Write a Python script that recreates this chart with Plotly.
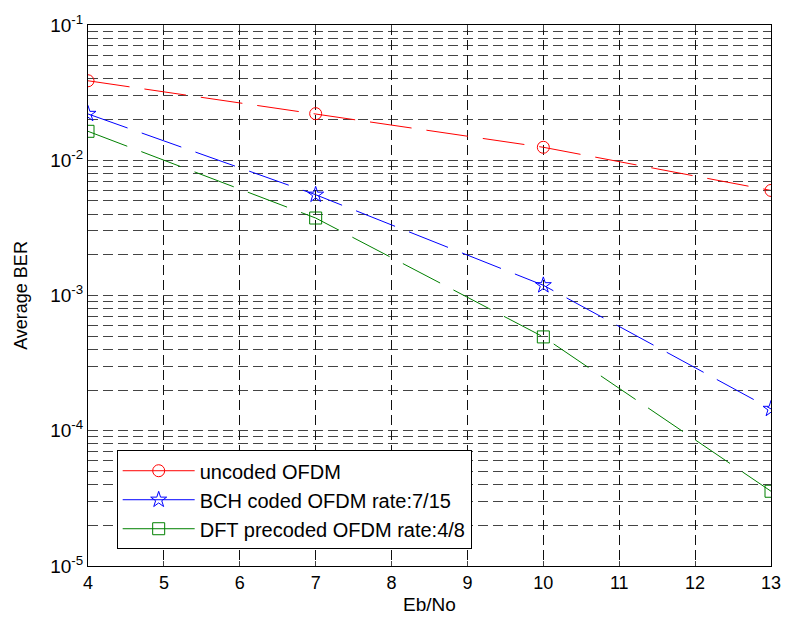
import plotly.graph_objects as go

ebno = [4, 7, 10, 13]
ber_uncoded = [0.0387, 0.0221, 0.01247, 0.00598]
ber_bch = [0.0220, 0.00556, 0.00119, 0.000145]
ber_dft = [0.01637, 0.00374, 0.000494, 0.0000357]

names = ["uncoded OFDM", "BCH coded OFDM rate:7/15", "DFT precoded OFDM rate:4/8"]
colors = ["#ff0000", "#0000ff", "#008000"]
symbols = ["circle-open", "star-open", "square-open"]

ytickvals = [1e-5, 1e-4, 1e-3, 1e-2, 1e-1]
yticktext = ["10<sup>-5</sup>", "10<sup>-4</sup>", "10<sup>-3</sup>", "10<sup>-2</sup>", "10<sup>-1</sup>"]
yminorvals = [m * d for d in [1e-5, 1e-4, 1e-3, 1e-2] for m in range(2, 10)]
xtickvals = [4, 5, 6, 7, 8, 9, 10, 11, 12, 13]

fig = go.Figure()
for y, n, c, s in zip([ber_uncoded, ber_bch, ber_dft], names, colors, symbols):
    fig.add_trace(go.Scatter(
        x=ebno, y=y, name=n, mode="lines+markers", showlegend=False,
        line=dict(color=c, width=1, dash="42px,15px"),
        marker=dict(symbol=s, size=12, color=c, line=dict(color=c, width=1)),
    ))
# legend entries (solid line sample, as in the reference legend)
for n, c, s in zip(names, colors, symbols):
    fig.add_trace(go.Scatter(
        x=[None], y=[None], name=n, mode="lines+markers", showlegend=True,
        line=dict(color=c, width=1),
        marker=dict(symbol=s, size=12, color=c, line=dict(color=c, width=1)),
    ))

font = "Liberation Sans, Arial, sans-serif"
fig.update_layout(
    width=793, height=626,
    margin=dict(l=88, r=16, t=23, b=60),
    paper_bgcolor="white", plot_bgcolor="white",
    font=dict(family=font, size=18, color="black"),
    showlegend=True,
    legend=dict(
        x=0.042, y=0.214, xanchor="left", yanchor="top",
        bgcolor="white", bordercolor="black", borderwidth=1,
        font=dict(family=font, size=20, color="black"),
        itemwidth=72, tracegroupgap=0,
    ),
)
fig.update_xaxes(
    range=[4, 13], tickvals=xtickvals, ticks="inside", ticklen=5,
    showline=True, linecolor="black", linewidth=1, mirror="allticks",
    showgrid=True, gridcolor="#111", gridwidth=1, griddash="10px,5px",
    zeroline=False, title=dict(text="Eb/No", standoff=6, font=dict(size=19)),
    tickfont=dict(size=18),
)
fig.update_yaxes(
    type="log", range=[-5, -1], tickvals=ytickvals, ticktext=yticktext,
    ticks="inside", ticklen=5,
    showline=True, linecolor="black", linewidth=1, mirror="allticks",
    showgrid=True, gridcolor="#444", gridwidth=1, griddash="10px,5px",
    minor=dict(tickvals=yminorvals, ticks="inside", ticklen=3, showgrid=True,
               gridcolor="#444", gridwidth=1, griddash="10px,5px"),
    zeroline=False, title=dict(text="Average BER", standoff=17, font=dict(size=18)),
    tickfont=dict(size=19),
)
fig.write_html("out.html")
